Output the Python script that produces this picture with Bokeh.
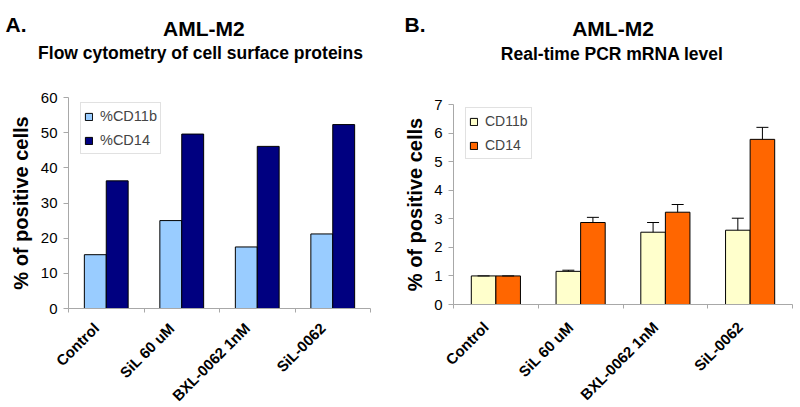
import math
from bokeh.plotting import figure
from bokeh.models import (Range1d, FixedTicker, Legend, LegendItem, Whisker, TeeHead,
                          ColumnDataSource)
from bokeh.layouts import row, column
from bokeh.core.properties import value
from bokeh.embed import file_html
from bokeh.resources import INLINE

# ---------------- data ----------------
categories = ["Control", "SiL 60 uM", "BXL-0062 1nM", "SiL-0062"]

flow_cd11b = [15.3, 25.0, 17.5, 21.2]
flow_cd14 = [36.3, 49.6, 46.1, 52.3]
flow_yticks = [0, 10, 20, 30, 40, 50, 60]

pcr_cd11b = [1.0, 1.16, 2.53, 2.6]
pcr_cd14 = [1.0, 2.87, 3.23, 5.78]
pcr_cd11b_err = [0.0, 0.04, 0.34, 0.42]
pcr_cd14_err = [0.0, 0.18, 0.27, 0.42]
pcr_yticks = [0, 1, 2, 3, 4, 5, 6, 7]

FONT = "Liberation Sans"
AXIS_GRAY = "#a8a8a8"

PANEL_W = 400
TITLE_H = 68
PLOT_H = 250
LABEL_H = 88


def blank_fig(height, x_range, y_range):
    f = figure(width=PANEL_W, height=height, x_range=x_range, y_range=y_range,
               x_axis_type=None, y_axis_type=None, output_backend="svg",
               toolbar_location=None, min_border=0,
               min_border_left=0, min_border_right=0, min_border_top=0, min_border_bottom=0,
               frame_align=False)
    f.outline_line_color = None
    f.background_fill_color = "white"
    f.border_fill_color = "white"
    return f


def make_panel(letter, title, subtitle, s1_name, s1_vals, s1_color, s2_name, s2_vals, s2_color,
               yticks, borders, legend_loc, legend_font, title_pos, label_y, ylabel_standoff,
               s1_err=None, s2_err=None):
    n = len(categories)
    centers = [i + 0.5 for i in range(n)]
    bw = 0.29
    bl, br, bt, bb = borders

    # ---- title strip ----
    tf = blank_fig(TITLE_H, Range1d(0, PANEL_W), Range1d(TITLE_H, 0))
    (lx, ly), (tx, ty), (sx, sy) = title_pos
    tf.text(x=[lx], y=[ly], text=[letter], text_font=value(FONT), text_font_style="bold",
            text_font_size="21px", text_align="left", text_baseline="alphabetic", text_color="black")
    tf.text(x=[tx], y=[ty], text=[title], text_font=value(FONT), text_font_style="bold",
            text_font_size="21px", text_align="center", text_baseline="alphabetic", text_color="black")
    tf.text(x=[sx], y=[sy], text=[subtitle], text_font=value(FONT), text_font_style="bold",
            text_font_size="17.5px", text_align="center", text_baseline="alphabetic", text_color="black")

    # ---- plot ----
    src = ColumnDataSource(dict(
        x1=[c - bw / 2 for c in centers], x2=[c + bw / 2 for c in centers],
        v1=s1_vals, v2=s2_vals,
    ))
    p = figure(width=PANEL_W, height=PLOT_H, x_range=Range1d(0, n),
               y_range=Range1d(yticks[0], yticks[-1]),
               output_backend="svg", toolbar_location=None, frame_align=False,
               min_border_left=bl, min_border_right=br, min_border_top=bt, min_border_bottom=bb)
    p.outline_line_color = None
    p.xgrid.visible = False
    p.ygrid.visible = False
    p.background_fill_color = "white"
    p.border_fill_color = "white"

    r1 = p.vbar(x="x1", top="v1", width=bw, source=src, fill_color=s1_color, line_color="black", line_width=1)
    r2 = p.vbar(x="x2", top="v2", width=bw, source=src, fill_color=s2_color, line_color="black", line_width=1)

    if s1_err is not None:
        for xs, vals, errs in (("x1", s1_vals, s1_err), ("x2", s2_vals, s2_err)):
            esrc = ColumnDataSource(dict(base=src.data[xs], lower=vals,
                                         upper=[v + e for v, e in zip(vals, errs)]))
            w = Whisker(source=esrc, base="base", lower="lower", upper="upper", dimension="height",
                        line_color="black", line_width=1, lower_head=None,
                        upper_head=TeeHead(size=12, line_color="black", line_width=1))
            w.level = "overlay"
            p.add_layout(w)

    xa = p.xaxis[0]
    xa.ticker = FixedTicker(ticks=centers, minor_ticks=[float(i) for i in range(n + 1)])
    xa.major_label_overrides = {c: "" for c in centers}
    xa.major_label_text_font_size = "0px"
    xa.major_label_standoff = 0
    xa.major_tick_line_color = None
    xa.minor_tick_line_color = AXIS_GRAY
    xa.minor_tick_in = 0
    xa.minor_tick_out = 4
    xa.axis_line_color = AXIS_GRAY

    ya = p.yaxis[0]
    ya.ticker = FixedTicker(ticks=yticks)
    ya.axis_line_color = AXIS_GRAY
    ya.major_tick_line_color = AXIS_GRAY
    ya.major_tick_in = 0
    ya.major_tick_out = 5
    ya.minor_tick_line_color = None
    ya.major_label_text_font = FONT
    ya.major_label_text_font_size = "15px"
    ya.major_label_text_color = "black"
    ya.major_label_standoff = 6
    ya.axis_label = "% of positive cells"
    ya.axis_label_text_font = FONT
    ya.axis_label_text_font_style = "bold"
    ya.axis_label_text_font_size = "20px"
    ya.axis_label_text_color = "black"
    ya.axis_label_standoff = ylabel_standoff

    legend = Legend(items=[LegendItem(label=s1_name, renderers=[r1]),
                           LegendItem(label=s2_name, renderers=[r2])],
                    location=legend_loc, glyph_width=9, glyph_height=9, label_height=20,
                    spacing=4, padding=3, margin=0, label_standoff=7,
                    label_text_font=FONT, label_text_font_size=legend_font,
                    border_line_color="#c4c4c4", border_line_width=1,
                    background_fill_color="white", background_fill_alpha=1.0)
    p.add_layout(legend, "center")

    # ---- category labels strip (same x scale as the plot frame) ----
    frame_w = PANEL_W - bl - br
    lf = blank_fig(LABEL_H, Range1d(-bl * n / frame_w, n + br * n / frame_w), Range1d(LABEL_H, 0))
    lf.text(x=centers, y=[label_y] * n, text=categories, angle=math.pi / 4, x_offset=-10,
            text_font=value(FONT), text_font_style="bold", text_font_size="15px",
            text_align="right", text_baseline="middle", text_color="black")

    return column(tf, p, lf)


col1 = make_panel("A.", "AML-M2", "Flow cytometry of cell surface proteins",
                  "%CD11b", flow_cd11b, "#99CCFF", "%CD14", flow_cd14, "#000080",
                  flow_yticks, (68, 30, 29, 10), (12, 154), "14.5px",
                  ((5, 24), (203.3, 28.3), (200, 52.7)), 7, 6)
col2 = make_panel("B.", "AML-M2", "Real-time PCR mRNA level",
                  "CD11b", pcr_cd11b, "#FFFFCC", "CD14", pcr_cd14, "#FF6600",
                  pcr_yticks, (53, 8, 36, 14), (12, 145), "14px",
                  ((4, 24), (212.5, 28.3), (211.7, 53.3)), 6, 5,
                  s1_err=pcr_cd11b_err, s2_err=pcr_cd14_err)

layout = row(col1, col2)
open("out.html", "w").write(file_html(layout, INLINE))
